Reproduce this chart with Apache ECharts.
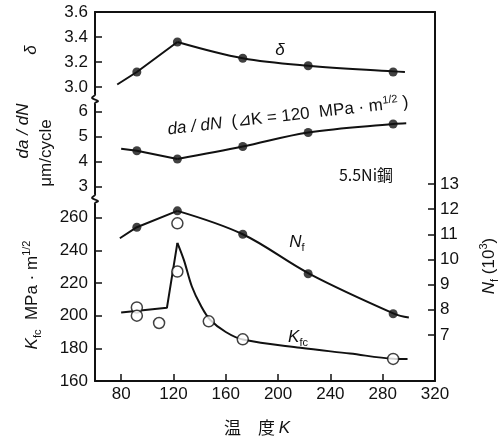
<!DOCTYPE html>
<html>
<head>
<meta charset="utf-8">
<script src="https://cdn.jsdelivr.net/npm/echarts@6.0.0/dist/echarts.min.js"></script>
<style>
  html, body { margin: 0; padding: 0; background: #fff; }
  #chart { width: 502px; height: 441px; }
</style>
</head>
<body>
<div id="chart"></div>
<script>
// ---- measured values (temperature in K) ----
const tempK = [92, 123, 173, 223, 288];
const deltaVals = [3.12, 3.36, 3.23, 3.17, 3.12];
const dadnVals = [4.43, 4.10, 4.60, 5.16, 5.50];
const nfVals = [11.28, 11.93, 11.0, 9.43, 7.84];

const kfcTemps = [92, 92, 109, 123, 123, 147, 173, 288];
const kfcVals = [205, 200, 195.5, 256.5, 227, 196.5, 185.5, 173.5];

// ---- fitted curves: polyline up to the peak, smooth curve after it ----
const deltaRiseK = [77, 92, 123];
const deltaRiseV = [3.02, 3.12, 3.36];
const deltaFallK = [123, 173, 223, 288, 297];
const deltaFallV = [3.36, 3.23, 3.17, 3.125, 3.12];

const dadnLeftK = [80, 92, 123];
const dadnLeftV = [4.51, 4.43, 4.10];
const dadnRightK = [123, 173, 223, 288, 298];
const dadnRightV = [4.10, 4.60, 5.16, 5.50, 5.53];

const nfRiseK = [79, 92, 123];
const nfRiseV = [10.84, 11.28, 11.93];
const nfFallK = [123, 173, 224, 289, 300];
const nfFallV = [11.93, 11.0, 9.43, 7.84, 7.69];

const kfcRiseK = [80, 115, 123];
const kfcRiseV = [202, 204.8, 244.6];
const kfcFallK = [123, 128, 134, 141, 148, 160, 173, 217, 255, 288, 299];
const kfcFallV = [244.6, 234, 218, 206, 197.5, 190, 185.4, 180.3, 176.8, 173.6, 173.4];

// ---- tick labels ----
const xTicks = [80, 120, 160, 200, 240, 280, 320];
const deltaTicks = [3.0, 3.2, 3.4, 3.6];
const dadnTicks = [3, 4, 5, 6];
const kfcTicks = [160, 180, 200, 220, 240, 260];
const nfTicks = [7, 8, 9, 10, 11, 12, 13];

// ---- layout ----
const L = 95, R = 435, TOP = 12, BOT = 381, BRK1 = 99, BRK2 = 199;
const W = R - L;
const INK = '#111';
const FONT = 'Liberation Sans, Arial, sans-serif';
const CJK = '"Noto Sans CJK JP", sans-serif';

const zip = (xs, ys) => xs.map((x, i) => [x, ys[i]]);

function valueX(gridIndex, opts) {
  return Object.assign({
    type: 'value', gridIndex, min: 60, max: 320,
    splitLine: { show: false }
  }, opts);
}

function leftY(gridIndex, min, max, ticks, fmt) {
  return {
    type: 'value', gridIndex, min, max, position: 'left',
    splitLine: { show: false },
    axisLine: { show: true, lineStyle: { color: INK, width: 2 } },
    axisTick: { show: true, inside: true, length: 7, customValues: ticks,
                lineStyle: { color: INK, width: 1.5 } },
    axisLabel: { show: true, customValues: ticks, margin: 7, color: INK,
                 fontSize: 17, fontFamily: FONT, formatter: fmt }
  };
}

function curve(data, xi, yi, smooth) {
  return {
    type: 'line', xAxisIndex: xi, yAxisIndex: yi, data,
    smooth: smooth ? 0.35 : false,
    showSymbol: false, symbol: 'none', silent: true,
    lineStyle: { color: INK, width: 2 }, z: 3
  };
}

function dots(data, xi, yi, open) {
  return {
    type: 'scatter', xAxisIndex: xi, yAxisIndex: yi, data,
    symbol: 'circle', symbolSize: open ? 11 : 9,
    itemStyle: open
      ? { color: '#fff', borderColor: INK, borderWidth: 1.5 }
      : { color: INK, borderColor: INK, borderWidth: 0 },
    z: 5
  };
}

function breakMark(y) {
  return [
    { type: 'rect', z: 100, shape: { x: L - 6, y: y - 5, width: 12, height: 10 },
      style: { fill: '#fff' } },
    { type: 'polyline', z: 101,
      shape: { points: [[L, y - 6], [L, y - 4], [L - 3, y - 1], [L + 3, y + 2], [L, y + 4], [L, y + 6]], smooth: 0.4 },
      style: { stroke: INK, lineWidth: 1.8, fill: null } }
  ];
}

function label(x, y, text, opts) {
  return Object.assign({
    type: 'text', x, y, z: 50,
    style: Object.assign({
      text, fill: INK, font: '17px ' + FONT,
      align: 'center', verticalAlign: 'middle',
      textAlign: 'center', textVerticalAlign: 'middle'
    }, (opts && opts.style) || {})
  }, (opts && opts.el) || {});
}

const rich = {
  i: { fontStyle: 'italic', fontSize: 17, fontFamily: FONT, lineHeight: 22, color: INK },
  n: { fontSize: 17, fontFamily: FONT, lineHeight: 22, color: INK },
  sub: { fontSize: 11, fontFamily: FONT, lineHeight: 10, verticalAlign: 'bottom', color: INK },
  sup: { fontSize: 11, fontFamily: FONT, lineHeight: 10, verticalAlign: 'top', color: INK },
  ai: { fontStyle: 'italic', fontSize: 17, fontFamily: FONT, lineHeight: 20, color: INK },
  an: { fontSize: 17, fontFamily: FONT, lineHeight: 20, color: INK },
  cjk: { fontSize: 17, fontFamily: CJK, lineHeight: 22, color: INK }
};

const chart = echarts.init(document.getElementById('chart'), null, { renderer: 'canvas' });

chart.setOption({
  backgroundColor: '#fff',
  animation: false,
  grid: [
    { left: L, top: TOP, width: W, height: BRK1 - TOP },
    { left: L, top: BRK1, width: W, height: BRK2 - BRK1 },
    { left: L, top: BRK2, width: W, height: BOT - BRK2 },
    { left: L, top: TOP, width: W, height: BOT - TOP }
  ],
  xAxis: [
    valueX(0, { show: false }),
    valueX(1, { show: false }),
    valueX(2, {
      position: 'bottom',
      axisLine: { show: true, lineStyle: { color: INK, width: 2 } },
      axisTick: { show: true, inside: true, length: 7, customValues: xTicks,
                  lineStyle: { color: INK, width: 1.5 } },
      axisLabel: { show: true, customValues: xTicks, margin: 5, color: INK,
                   fontSize: 17, fontFamily: FONT }
    }),
    valueX(3, {
      position: 'top',
      axisLine: { show: true, lineStyle: { color: INK, width: 2 } },
      axisTick: { show: false }, axisLabel: { show: false }
    })
  ],
  yAxis: [
    leftY(0, 2.904, 3.6, deltaTicks, v => v.toFixed(1)),
    leftY(1, 2.5, 6.5, dadnTicks, v => String(v)),
    leftY(2, 160, 271.4, kfcTicks, v => String(v)),
    {
      type: 'value', gridIndex: 3, min: 5.17, max: 19.83, position: 'right',
      splitLine: { show: false },
      axisLine: { show: true, lineStyle: { color: INK, width: 2 } },
      axisTick: { show: true, inside: true, length: 7, customValues: nfTicks,
                  lineStyle: { color: INK, width: 1.5 } },
      axisLabel: { show: true, customValues: nfTicks, margin: 5, color: INK,
                   fontSize: 17, fontFamily: FONT }
    }
  ],
  series: [
    curve(zip(deltaRiseK, deltaRiseV), 0, 0, false),
    curve(zip(deltaFallK, deltaFallV), 0, 0, true),
    dots(zip(tempK, deltaVals), 0, 0, false),

    curve(zip(dadnLeftK, dadnLeftV), 1, 1, false),
    curve(zip(dadnRightK, dadnRightV), 1, 1, true),
    dots(zip(tempK, dadnVals), 1, 1, false),

    curve(zip(kfcRiseK, kfcRiseV), 2, 2, false),
    curve(zip(kfcFallK, kfcFallV), 2, 2, true),
    dots(zip(kfcTemps, kfcVals), 2, 2, true),

    curve(zip(nfRiseK, nfRiseV), 3, 3, false),
    curve(zip(nfFallK, nfFallV), 3, 3, true),
    dots(zip(tempK, nfVals), 3, 3, false)
  ],
  graphic: [
    ...breakMark(BRK1),
    ...breakMark(BRK2),

    // axis titles
    label(31, 50, '{i|δ}', { el: { rotation: Math.PI / 2 }, style: { rich } }),
    label(23, 131, '{i|da / dN}', { el: { rotation: Math.PI / 2 }, style: { rich } }),
    label(46, 153, '{n|μm/cycle}', { el: { rotation: Math.PI / 2 }, style: { rich } }),
    label(32, 295, '{i|K}{sub|fc}{n|  MPa · m}{sup|1/2}', { el: { rotation: Math.PI / 2 }, style: { rich } }),
    label(489, 266, '{i|N}{sub|f}{n| (10}{sup|3}{n|)}', { el: { rotation: Math.PI / 2 }, style: { rich } }),
    label(257, 428, '{cjk|温　度 }{i|K}', { style: { rich } }),

    // curve labels
    label(280, 50, '{i|δ}', { style: { rich } }),
    label(297, 242, '{i|N}{sub|f}', { style: { rich } }),
    label(298, 337, '{i|K}{sub|fc}', { style: { rich } }),
    label(288, 116, '{ai|da / dN}{an|  (⊿K = 120  MPa · m}{sup|1/2}{an| )}', {
      el: { rotation: 6.5 * Math.PI / 180 }, style: { rich }
    }),
    label(366, 175, '5.5Ni鋼', { style: { font: '16px ' + CJK } })
  ]
});
</script>
</body>
</html>
